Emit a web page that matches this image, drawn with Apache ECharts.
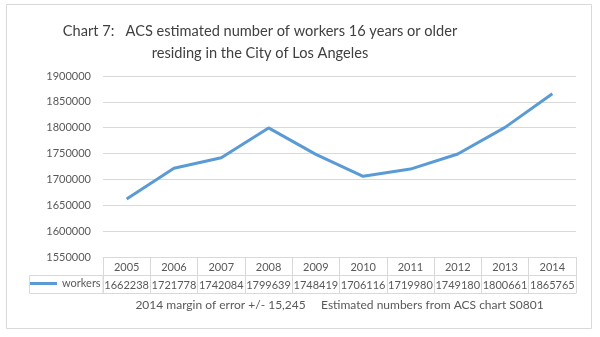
<!DOCTYPE html>
<html>
<head>
<meta charset="utf-8">
<script src="https://cdn.jsdelivr.net/npm/echarts@6/dist/echarts.min.js"></script>
<style>
  html, body { margin: 0; padding: 0; background: #fff; }
  #chart { width: 600px; height: 337px; }
</style>
</head>
<body>
<div id="chart"></div>
<script>
// ACS estimates of workers aged 16+ living in the City of Los Angeles
const years = ['2005', '2006', '2007', '2008', '2009', '2010', '2011', '2012', '2013', '2014'];
const workers = [1662238, 1721778, 1742084, 1799639, 1748419, 1706116, 1719980, 1749180, 1800661, 1865765];
const seriesName = 'workers';
const yMin = 1550000;
const yMax = 1900000;
const yStep = 50000;

const titleLines = ['Chart 7:   ACS estimated number of workers 16 years or older', 'residing in the City of Los Angeles'];
const footnote = '2014 margin of error +/- 15,245     Estimated numbers from ACS chart S0801';

// layout
const W = 600, H = 337;
const grid = { left: 103, right: 24, top: 76, bottom: 80 };
const rowH = 18;
const gridBottomY = H - grid.bottom;
const plotCenterX = (grid.left + (W - grid.right)) / 2;
const FONT = 'Lato, "Open Sans", sans-serif';
const textColor = '#595959';
const lineColor = '#d9d9d9';
const blue = '#5b9bd5';

const chart = echarts.init(document.getElementById('chart'), null, { renderer: 'canvas' });

chart.setOption({
  backgroundColor: '#fff',
  animation: false,
  textStyle: { fontFamily: FONT },
  title: {
    text: titleLines.join('\n'),
    left: 255,
    top: 15,
    textAlign: 'center',
    textStyle: { fontFamily: FONT, fontSize: 14.6, fontWeight: 'normal', color: '#404040', lineHeight: 22 }
  },
  legend: {
    data: [seriesName],
    left: 30,
    top: gridBottomY + rowH + 3,
    padding: 0,
    icon: 'rect',
    itemWidth: 27,
    itemHeight: 3,
    textStyle: { fontFamily: FONT, fontSize: 11, color: textColor }
  },
  grid: { left: grid.left, right: grid.right, top: grid.top, bottom: grid.bottom, containLabel: false },
  xAxis: [
    {
      type: 'category',
      data: years,
      boundaryGap: true,
      axisLine: { show: true, lineStyle: { color: lineColor, width: 1 } },
      axisTick: { show: true, length: rowH * 2, lineStyle: { color: lineColor } },
      axisLabel: { interval: 0, color: textColor, fontSize: 11, fontFamily: FONT, margin: 5 }
    },
    {
      type: 'category',
      data: workers.map(String),
      position: 'bottom',
      offset: rowH,
      boundaryGap: true,
      axisLine: { show: true, lineStyle: { color: lineColor, width: 1 } },
      axisTick: { show: false },
      axisLabel: { interval: 0, color: textColor, fontSize: 11, fontFamily: FONT, margin: 5 }
    },
    {
      type: 'category',
      data: years,
      position: 'bottom',
      offset: rowH * 2,
      axisLine: { show: true, lineStyle: { color: lineColor, width: 1 } },
      axisTick: { show: false },
      axisLabel: { show: false }
    }
  ],
  yAxis: {
    type: 'value',
    min: yMin,
    max: yMax,
    interval: yStep,
    axisLine: { show: false },
    axisTick: { show: false },
    splitLine: { lineStyle: { color: lineColor, width: 1 } },
    axisLabel: { color: textColor, fontSize: 11, fontFamily: FONT, margin: 12, formatter: v => String(v) }
  },
  series: [{
    name: seriesName,
    type: 'line',
    xAxisIndex: 0,
    data: workers,
    symbol: 'none',
    lineStyle: { color: blue, width: 3 },
    itemStyle: { color: blue }
  }],
  graphic: [
    {
      type: 'rect',
      shape: { x: 6.5, y: 4.5, width: 585, height: 324 },
      style: { fill: 'none', stroke: lineColor, lineWidth: 1 },
      silent: true
    },
    {
      type: 'rect',
      shape: { x: 29.5, y: gridBottomY + rowH + 0.5, width: grid.left - 29.5, height: rowH },
      style: { fill: 'none', stroke: lineColor, lineWidth: 1 },
      silent: true
    },
    {
      type: 'text',
      x: plotCenterX,
      y: gridBottomY + rowH * 2 + 12,
      style: { text: footnote, fill: textColor, font: '12px ' + FONT, textAlign: 'center', textVerticalAlign: 'middle' },
      silent: true
    }
  ]
});
</script>
</body>
</html>
